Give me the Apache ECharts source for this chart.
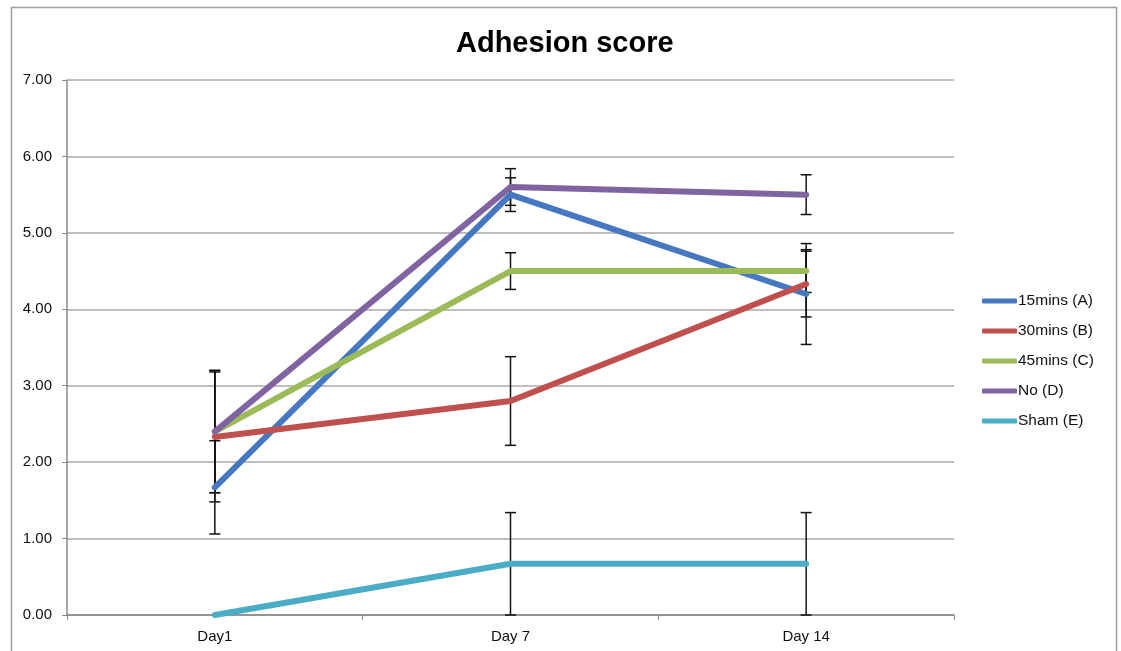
<!DOCTYPE html>
<html>
<head>
<meta charset="utf-8">
<script src="https://cdn.jsdelivr.net/npm/echarts@6/dist/echarts.min.js"></script>
<style>
html,body{margin:0;padding:0;background:#fff;}
#chart{width:1121px;height:651px;}
</style>
</head>
<body>
<div id="chart"></div>
<script>
const categories = ['Day1', 'Day 7', 'Day 14'];
const yTicks = [0, 1, 2, 3, 4, 5, 6, 7];

const namesList = ['15mins (A)', '30mins (B)', '45mins (C)', 'No (D)', 'Sham (E)'];
const valuesA = [1.67, 5.50, 4.20];
const valuesB = [2.33, 2.80, 4.33];
const valuesC = [2.40, 4.50, 4.50];
const valuesD = [2.40, 5.60, 5.50];
const valuesE = [0.00, 0.67, 0.67];

const errorsA = [0.61, 0.22, 0.66];
const errorsB = [0.85, 0.58, 0.43];
const errorsC = [0.80, 0.24, 0.28];
const errorsD = [0.80, 0.24, 0.26];
const errorsE = [0.00, 0.67, 0.67];

const colorsList = ['#4578C0', '#C0504D', '#9BBB59', '#8064A2', '#4BACC6'];

const allValues = [valuesA, valuesB, valuesC, valuesD, valuesE];
const allErrors = [errorsA, errorsB, errorsC, errorsD, errorsE];

const chart = echarts.init(document.getElementById('chart'));

const lineSeries = namesList.map((n, i) => ({
  name: n,
  type: 'line',
  data: allValues[i],
  symbol: 'none',
  showSymbol: false,
  color: colorsList[i],
  lineStyle: { width: 6, color: colorsList[i], cap: 'round', join: 'round' },
  itemStyle: { color: colorsList[i] },
  z: 3,
  animation: false
}));

const errData = [];
allValues.forEach((vals, s) => {
  vals.forEach((v, i) => {
    const e = allErrors[s][i];
    if (e > 0) errData.push([i, v - e, v + e]);
  });
});

const errSeries = {
  type: 'custom',
  name: 'err',
  data: errData,
  z: 2,
  animation: false,
  renderItem: function (params, api) {
    const x = api.value(0);
    const lo = api.coord([x, api.value(1)]);
    const hi = api.coord([x, api.value(2)]);
    const hw = 5.5;
    const style = { stroke: '#111', lineWidth: 1.5, fill: null };
    return {
      type: 'group',
      children: [
        { type: 'line', shape: { x1: lo[0], y1: lo[1], x2: hi[0], y2: hi[1] }, style: style },
        { type: 'line', shape: { x1: lo[0] - hw, y1: lo[1], x2: lo[0] + hw, y2: lo[1] }, style: style },
        { type: 'line', shape: { x1: hi[0] - hw, y1: hi[1], x2: hi[0] + hw, y2: hi[1] }, style: style }
      ]
    };
  }
};

chart.setOption({
  backgroundColor: '#fff',
  animation: false,
  title: {
    text: 'Adhesion score',
    left: 451,
    top: 24,
    textStyle: { fontFamily: 'Liberation Sans, Arial, sans-serif', fontSize: 29, fontWeight: 'bold', color: '#000' }
  },
  graphic: [{
    type: 'rect',
    shape: { x: 11.5, y: 7.5, width: 1105, height: 700 },
    style: { stroke: '#a0a0a0', lineWidth: 1.5, fill: null },
    silent: true
  }],
  legend: {
    orient: 'vertical',
    left: 977,
    top: 288,
    data: namesList,
    icon: 'roundRect',
    itemWidth: 35,
    itemHeight: 5,
    itemGap: 14,
    textStyle: { fontFamily: 'Liberation Sans, Arial, sans-serif', fontSize: 15.5, color: '#111', lineHeight: 16, padding: [0, 0, 0, -4] }
  },
  grid: { left: 67, right: 167, top: 80, bottom: 36, containLabel: false },
  xAxis: {
    type: 'category',
    data: categories,
    boundaryGap: true,
    axisLine: { lineStyle: { color: '#888', width: 1.5 } },
    axisTick: { show: true, length: 5, lineStyle: { color: '#888' } },
    axisLabel: { fontFamily: 'Liberation Sans, Arial, sans-serif', fontSize: 15, color: '#111', margin: 14 },
    splitLine: { show: false }
  },
  yAxis: {
    type: 'value',
    min: yTicks[0],
    max: yTicks[yTicks.length - 1],
    interval: 1,
    axisLine: { show: true, lineStyle: { color: '#888', width: 1.5 } },
    axisTick: { show: true, length: 5, lineStyle: { color: '#888' } },
    axisLabel: {
      fontFamily: 'Liberation Sans, Arial, sans-serif', fontSize: 15, color: '#111', margin: 15,
      formatter: v => v.toFixed(2)
    },
    splitLine: { show: true, lineStyle: { color: '#a8a8a8', width: 1.5 } }
  },
  series: [errSeries].concat(lineSeries)
});
</script>
</body>
</html>
